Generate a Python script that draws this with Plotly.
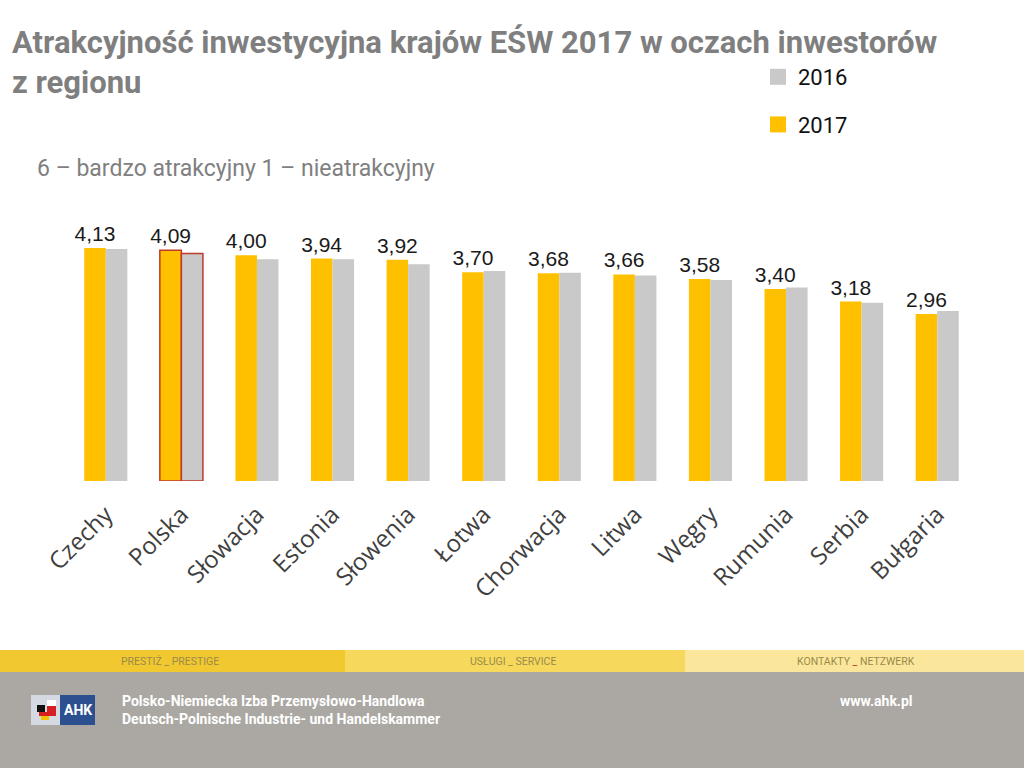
import plotly.graph_objects as go

countries = ["Czechy", "Polska", "Słowacja", "Estonia", "Słowenia", "Łotwa",
             "Chorwacja", "Litwa", "Węgry", "Rumunia", "Serbia", "Bułgaria"]
values_2017 = [4.13, 4.09, 4.00, 3.94, 3.92, 3.70, 3.68, 3.66, 3.58, 3.40, 3.18, 2.96]
values_2016 = [4.11, 4.03, 3.93, 3.93, 3.84, 3.72, 3.69, 3.64, 3.56, 3.43, 3.16, 3.01]
highlight = "Polska"

title_text = "Atrakcyjność inwestycyjna krajów EŚW 2017 w oczach inwestorów<br>z regionu"
subtitle_text = "6 – bardzo atrakcyjny 1 – nieatrakcyjny"

ORANGE = "#FFC000"
GRAY = "#C9C9C9"
RED = "#C0392B"

W, H = 1024, 768
def px(x):
    return x / W
def py(y):
    return (H - y) / H

line_w = [1.5 if c == highlight else 0 for c in countries]
line_c = [RED if c == highlight else "rgba(0,0,0,0)" for c in countries]

fig = go.Figure()
fig.add_trace(go.Bar(
    x=countries, y=values_2017, name="2017", showlegend=False,
    marker=dict(color=ORANGE, line=dict(width=line_w, color=line_c)),
    text=[f"{v:.2f}".replace(".", ",") for v in values_2017],
    textposition="outside", constraintext="none",
    textfont=dict(family="Liberation Sans, Arial", size=21, color="#1a1a1a"),
    cliponaxis=False,
))
fig.add_trace(go.Bar(
    x=countries, y=values_2016, name="2016", showlegend=False,
    marker=dict(color=GRAY, line=dict(width=line_w, color=line_c)),
))
# legend entries (legend-only markers)
fig.add_trace(go.Scatter(x=[None], y=[None], mode="markers", name="2016", legendgroup="g2016", legendrank=1,
                         marker=dict(symbol="square", size=16, color=GRAY)))
fig.add_trace(go.Scatter(x=[None], y=[None], mode="markers", name="2017", legendgroup="g2017", legendrank=2,
                         marker=dict(symbol="square", size=16, color=ORANGE)))

shapes = []
# footer bands
shapes.append(dict(type="rect", xref="paper", yref="paper", x0=0, x1=1, y0=0, y1=py(672),
                   fillcolor="#ABA8A3", line_width=0, layer="below"))
for x0, x1, col in [(0, 345, "#F2C830"), (345, 685, "#F6D95C"), (685, 1024, "#FAE79C")]:
    shapes.append(dict(type="rect", xref="paper", yref="paper", x0=px(x0), x1=px(x1),
                       y0=py(672), y1=py(650), fillcolor=col, line_width=0, layer="below"))
# logo
shapes.append(dict(type="rect", xref="paper", yref="paper", x0=px(31), x1=px(62), y0=py(725), y1=py(695),
                   fillcolor="#D5D9E2", line_width=0))
shapes.append(dict(type="rect", xref="paper", yref="paper", x0=px(60), x1=px(95), y0=py(725), y1=py(695),
                   fillcolor="#2C4F8F", line_width=0))
for (x0, x1, y0, y1, col) in [(37, 45, 705, 712, "#111111"), (39, 47, 712, 716, "#D42020"),
                              (41, 49, 716, 720, "#F2C200"), (47, 56, 700, 706, "#FFFFFF"),
                              (47, 56, 706, 716, "#D42020")]:
    shapes.append(dict(type="rect", xref="paper", yref="paper", x0=px(x0), x1=px(x1),
                       y0=py(y1), y1=py(y0), fillcolor=col, line_width=0))

NARROW = "Liberation Sans Narrow, Roboto, Arial"
BAND_FONT = dict(family=NARROW, size=10.5, color="#9A8A4A")
annotations = [
    dict(text=title_text, x=px(10), y=py(22), xref="paper", yref="paper", xanchor="left", yanchor="top",
         showarrow=False, align="left",
         font=dict(family=NARROW, size=31, color="#7F7F7F", weight="bold")),
    dict(text=subtitle_text, x=px(35), y=py(168), xref="paper", yref="paper", xanchor="left", yanchor="middle",
         showarrow=False, font=dict(family=NARROW, size=23, color="#808080")),
    dict(text="PRESTIŻ _ PRESTIGE", x=px(170), y=py(661), xref="paper", yref="paper", showarrow=False,
         xanchor="center", yanchor="middle", font=BAND_FONT),
    dict(text="USŁUGI _ SERVICE", x=px(513), y=py(661), xref="paper", yref="paper", showarrow=False,
         xanchor="center", yanchor="middle", font=BAND_FONT),
    dict(text="KONTAKTY <span style='color:#C0392B'>_</span> NETZWERK", x=px(856), y=py(661),
         xref="paper", yref="paper", showarrow=False, xanchor="center", yanchor="middle", font=BAND_FONT),
    dict(text="AHK", x=px(78), y=py(710), xref="paper", yref="paper", showarrow=False,
         xanchor="center", yanchor="middle",
         font=dict(family=NARROW, size=14, color="white", weight="bold")),
    dict(text="Polsko-Niemiecka Izba Przemysłowo-Handlowa", x=px(120), y=py(701), xref="paper", yref="paper",
         xanchor="left", yanchor="middle", showarrow=False,
         font=dict(family=NARROW, size=14, color="white", weight="bold")),
    dict(text="Deutsch-Polnische Industrie- und Handelskammer", x=px(120), y=py(719), xref="paper", yref="paper",
         xanchor="left", yanchor="middle", showarrow=False,
         font=dict(family=NARROW, size=14, color="white", weight="bold")),
    dict(text="www.ahk.pl", x=px(915), y=py(701), xref="paper", yref="paper",
         xanchor="right", yanchor="middle", showarrow=False,
         font=dict(family=NARROW, size=14, color="white", weight="bold")),
]

fig.update_layout(
    width=W, height=H, margin=dict(l=0, r=0, t=0, b=0, autoexpand=False),
    paper_bgcolor="white", plot_bgcolor="white",
    barmode="group", bargap=0.43, bargroupgap=0,
    showlegend=True,
    legend=dict(x=px(758), y=py(56), xanchor="left", yanchor="top", traceorder="grouped",
                tracegroupgap=16, font=dict(family=NARROW, size=22, color="#111111"),
                bgcolor="rgba(0,0,0,0)"),
    xaxis=dict(domain=[px(68), px(975)], tickangle=-45, showline=False, showgrid=False, automargin=False,
               ticks="outside", ticklen=9, tickcolor="rgba(0,0,0,0)",
               tickfont=dict(family="Open Sans", size=24, color="#404040")),
    yaxis=dict(domain=[py(481), py(227)], range=[0, 4.5], visible=False, showgrid=False, automargin=False),
    shapes=shapes, annotations=annotations,
)

fig.write_html("out.html", config={"displayModeBar": False},
               post_script="document.body.style.margin='0';document.body.style.overflow='hidden';")
